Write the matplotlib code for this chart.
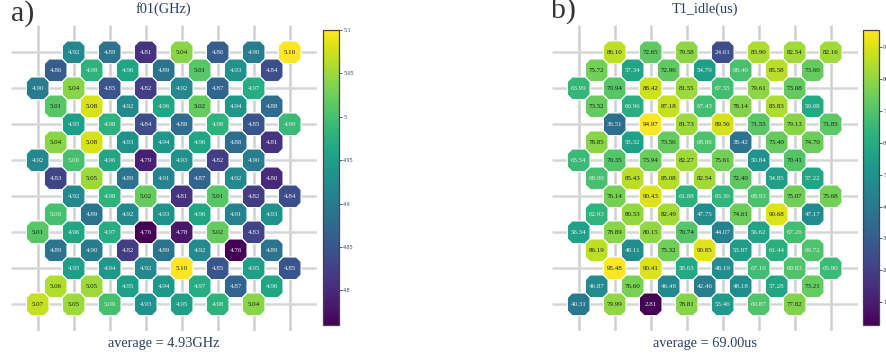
import numpy as np
import matplotlib
matplotlib.use("Agg")
import matplotlib.pyplot as plt
from matplotlib.path import Path
from matplotlib.colors import Normalize

# ---- chip layout: 15 rows, 7 qubits per row, staggered columns ----
row_start = [2, 1, 0, 1, 2, 1, 0, 1, 2, 1, 0, 1, 2, 1, 0]

# ---- qubit frequency f01 (GHz), row by row ----
f01 = [
    [4.92, 4.89, 4.81, 5.04, 4.86, 4.90, 5.10],
    [4.86, 4.98, 4.96, 4.89, 5.01, 4.93, 4.84],
    [4.90, 5.04, 4.85, 4.82, 4.92, 4.87, 4.97],
    [5.01, 5.08, 4.92, 4.96, 5.02, 4.94, 4.88],
    [4.95, 4.98, 4.84, 4.88, 4.98, 4.85, 4.99],
    [5.04, 5.08, 4.93, 4.94, 4.96, 4.88, 4.81],
    [4.92, 5.00, 4.96, 4.79, 4.93, 4.82, 4.90],
    [4.83, 5.05, 4.89, 4.91, 4.87, 4.92, 4.80],
    [4.92, 4.98, 5.02, 4.81, 5.01, 4.82, 4.84],
    [5.00, 4.89, 4.92, 4.93, 4.96, 4.91, 4.93],
    [5.01, 4.96, 4.97, 4.76, 4.78, 5.02, 4.83],
    [4.89, 4.90, 4.82, 4.89, 4.92, 4.76, 4.89],
    [4.95, 4.94, 4.92, 5.10, 4.85, 4.95, 4.85],
    [5.06, 5.05, 4.95, 4.94, 4.97, 4.87, 4.96],
    [5.07, 5.05, 5.00, 4.93, 4.95, 4.98, 5.04],
]

# ---- idle T1 (us), row by row ----
t1_idle = [
    [86.10, 72.65, 79.58, 24.61, 83.90, 82.54, 82.16],
    [75.72, 57.34, 72.96, 54.79, 68.40, 85.58, 73.60],
    [63.99, 70.94, 88.42, 81.55, 67.55, 79.61, 73.08],
    [73.52, 60.96, 87.18, 67.43, 78.14, 83.83, 59.08],
    [36.51, 94.97, 81.73, 89.56, 71.55, 79.13, 71.85],
    [78.85, 55.32, 73.56, 68.88, 38.42, 73.40, 74.70],
    [65.54, 70.35, 73.94, 82.27, 75.61, 50.84, 70.41],
    [68.09, 85.43, 85.08, 82.54, 72.40, 54.85, 57.22],
    [76.14, 90.43, 61.88, 63.30, 68.93, 75.07, 75.68],
    [62.93, 80.53, 82.49, 47.75, 74.61, 90.68, 47.17],
    [56.34, 78.89, 80.15, 70.74, 44.07, 56.62, 67.26],
    [86.19, 48.11, 75.32, 90.85, 53.87, 61.44, 69.72],
    [95.48, 90.41, 58.63, 48.19, 67.19, 69.83, 65.90],
    [46.87, 76.60, 46.48, 42.46, 48.18, 57.28, 73.21],
    [40.31, 79.99, 2.81, 78.81, 53.46, 69.87, 77.82],
]

f01_ticks = [4.8, 4.85, 4.9, 4.95, 5.0, 5.05, 5.1]
f01_ticklabels = ["4.8", "4.85", "4.9", "4.95", "5", "5.05", "5.1"]
t1_ticks = [10, 20, 30, 40, 50, 60, 70, 80, 90]
t1_ticklabels = [str(t) for t in t1_ticks]

SERIF = ["Liberation Serif", "DejaVu Serif"]
TITLE_COLOR = "#2a3f5f"

# chamfered-square octagon used as the qubit marker
_b = 0.58
octagon = Path([(-_b, -1), (_b, -1), (1, -_b), (1, _b), (_b, 1), (-_b, 1),
                (-1, _b), (-1, -_b), (-_b, -1)], closed=True)

W, H = 886, 360
fig = plt.figure(figsize=(W / 100, H / 100), dpi=100)


def px_axes(x0, y0, x1, y1):
    return fig.add_axes([x0 / W, 1 - y1 / H, (x1 - x0) / W, (y1 - y0) / H])


def draw_panel(ax, cax, data, title, unit, letter, letter_xy, ticks, ticklabels):
    vals = np.array(data)
    rows, cols = [], []
    for r, start in enumerate(row_start):
        for k in range(vals.shape[1]):
            rows.append(r)
            cols.append(start + 2 * k)
    rows = np.array(rows)
    cols = np.array(cols)
    flat = vals.ravel()

    norm = Normalize(vmin=flat.min(), vmax=flat.max())
    cmap = plt.get_cmap("viridis")

    # background grid through the even rows / columns
    lo, hi = -1.5, 15.5
    for c in range(0, 15, 2):
        ax.plot([c, c], [lo, hi], color="#cfcfcf", lw=1.8, zorder=0,
                solid_capstyle="butt")
    for r in range(0, 15, 2):
        ax.plot([lo, hi], [r, r], color="#d6d6d6", lw=1.8, zorder=0,
                solid_capstyle="butt")

    sc = ax.scatter(cols, rows, c=flat, cmap=cmap, norm=norm, marker=octagon,
                    s=16.3 ** 2, edgecolors="white", linewidths=0.8, zorder=2)

    for x, y, v in zip(cols, rows, flat):
        tc = "#1a1a1a" if norm(v) >= 0.726 else "#f0f0f0"
        ax.text(x, y + 0.03, f"{v:.2f}", ha="center", va="center", fontsize=5,
                family=SERIF, color=tc, zorder=3)

    ax.set_xlim(lo, hi)
    ax.set_ylim(hi, lo)
    ax.axis("off")

    cx = (cols.min() + cols.max()) / 2
    ax.text(cx, -2.4, title, ha="center", va="center", fontsize=10.3,
            family=SERIF, color=TITLE_COLOR, clip_on=False)
    ax.text(cx, 16.2, f"average = {flat.mean():.2f}{unit}", ha="center",
            va="center", fontsize=10.3, family=SERIF, color=TITLE_COLOR,
            clip_on=False)

    fig.text(letter_xy[0] / W, 1 - letter_xy[1] / H, letter, ha="left",
             va="center", fontsize=21.5, family=SERIF, color="#333333")

    cb = fig.colorbar(sc, cax=cax)
    cb.outline.set_edgecolor("#444444")
    cb.outline.set_linewidth(0.9)
    cb.set_ticks(ticks)
    cb.set_ticklabels(ticklabels)
    cax.tick_params(length=2, width=0.6, color="#444444", pad=1,
                    labelsize=4.3, labelcolor=TITLE_COLOR)
    for lab in cax.get_yticklabels():
        lab.set_family(SERIF)


ax_a = px_axes(10.7, 25.3, 316.7, 331.3)
cax_a = px_axes(322.7, 30, 339, 325)
draw_panel(ax_a, cax_a, f01, "f01(GHz)", "GHz", "a)", (11, 14),
           f01_ticks, f01_ticklabels)

ax_b = px_axes(551.7, 25.3, 857.7, 331.3)
cax_b = px_axes(863.3, 30, 879, 325)
draw_panel(ax_b, cax_b, t1_idle, "T1_idle(us)", "us", "b)", (551, 11),
           t1_ticks, t1_ticklabels)

fig.savefig("out.png", dpi=100)
